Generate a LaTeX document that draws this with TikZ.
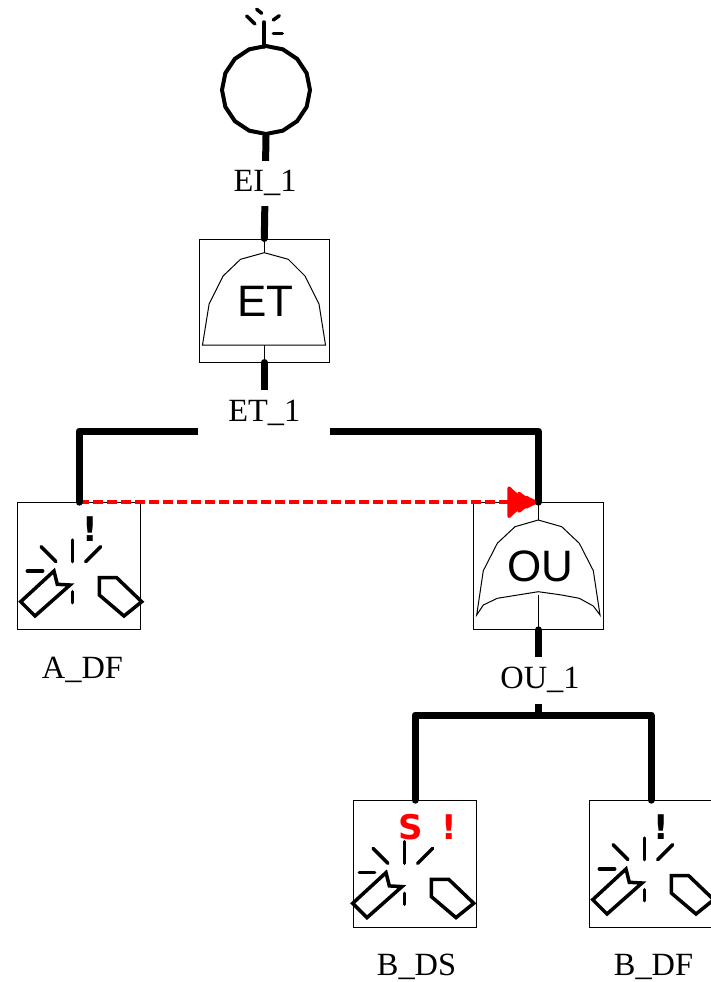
\documentclass[tikz,border=0pt]{standalone}
\usepackage{fontspec}
\setmainfont{Liberation Serif}
\newfontfamily\gatefont{Liberation Sans}
\newfontfamily\markfont{DejaVu Sans}[BoldFont={DejaVu Sans Bold}]
\usetikzlibrary{arrows.meta}
\usetikzlibrary{shapes.geometric}
\tikzset{wire/.style = {line width = 7, line cap = round, line join = round}}
\tikzset{thin line/.style = {line width = 1}}
\tikzset{box/.style = {draw, line width = 1, inner sep = 0, minimum width = 123.4, minimum height = 126.6}}
\tikzset{gatename/.style = {inner sep = 0, font = \gatefont\fontsize{44}{44}\selectfont}}
\tikzset{tag/.style = {fill = white, inner sep = 0, font = \fontsize{32.4}{32.4}\selectfont}}
\tikzset{markbang/.style = {inner sep = 0, font = \markfont\bfseries\fontsize{34}{34}\selectfont}}
\tikzset{spark/.style = {line width = 3.5, line cap = round}}
\tikzset{andshape/.pic = {
    \draw [thin line] (0, -47.8) -- (24, -41.2) -- (40.7, -24.5) -- (54.7, 3.5) -- (61.2, 44.5)
      -- (-61.8, 44.5) -- (-55.2, 3.5) -- (-41.2, -24.5) -- (-23.8, -41.2) -- cycle;
    \draw [thin line] (0, -61.5) -- (0, -47.8);
    \draw [thin line] (0, 44.5) -- (0, 61.5);
  }}
\tikzset{orshape/.pic = {
    \draw [thin line] (0, -46) -- (23.4, -39.3) -- (41, -22.7) -- (55, 4.7) -- (61.7, 49)
      -- (55, 40) -- (41, 32.3) -- (23.4, 29) -- (0, 25.7) -- (-41, 32.3) -- (-55, 39)
      -- (-61.6, 49) -- (-55, 4.7) -- (-41, -22.7) -- (-23.3, -39.3) -- cycle;
    \draw [thin line] (0, -63) -- (0, -46);
    \draw [thin line] (0, 29) -- (0, 63);
  }}
\tikzset{faultshape/.pic = {
    \draw [spark] (-6.7, -26) -- (-6.7, -4.3);
    \draw [spark] (-38, -19.3) -- (-23, -4.3);
    \draw [spark] (21.7, -19.3) -- (6.7, -4.3);
    \draw [spark] (-51.7, 5) -- (-36.3, 5);
    \draw [spark] (-6.7, 25.7) -- (-6.7, 36.7);
    \draw [line width = 3.5] (-25, 5) -- (-21.7, 18.3) -- (-9, 19) -- (-44, 50) -- (-58.3, 35.7) -- cycle;
    \draw [line width = 3.5] (20.3, 11.7) -- (37.7, 11.7) -- (62.7, 35.7) -- (45, 50) -- (20.3, 29) -- cycle;
  }}

\begin{document}
\begin{tikzpicture}[x = 1pt, y = -1pt]
      \useasboundingbox (0, 0) rectangle (711, 982);
      % gates and events
      \node [regular polygon, regular polygon sides = 16, shape border rotate = 11.25, draw,
             line width = 4, inner sep = 0, minimum size = 88] (EI) at (266, 90) {};
      \node [box, minimum width = 130.5, minimum height = 123] (ET) at (264.3, 300.5) {};
      \node [box, minimum width = 130] (OU) at (538.3, 566) {};
      \node [box] (A_DF) at (79, 566) {};
      \node [box] (B_DS) at (415, 864) {};
      \node [box] (B_DF) at (651, 864) {};
      \pic at (ET) {andshape};
      \pic at (OU) {orshape};
      \pic at (79, 566) {faultshape};
      \pic at (411, 867.6) {faultshape};
      \pic at (651, 864) {faultshape};
      \node [gatename] (ET_name) at (265.5, 301.5) {ET};
      \node [gatename] (OU_name) at (540, 566.5) {OU};
      \node [markbang] (A_DF_mark) at (90, 529) {!};
      \node [markbang] (B_DF_mark) at (661.5, 827) {!};
      \node [markbang, text = red] (B_DS_s) at (410.5, 827) {S};
      \node [markbang, text = red] (B_DS_mark) at (449, 827) {!};
      % small rays above the source circle
      \coordinate (EI_base) at (264, 47);
      \coordinate (EI_top) at (264, 22);
      \draw [spark] (EI_base) -- (EI_top);
      \draw [spark] (246.7, 16) -- (255, 24);
      \draw [spark] (256.7, 9.3) -- (261.7, 13.3);
      \draw [spark] (273.3, 20) -- (279.3, 15.7);
      \draw [spark] (273.3, 33.3) -- (282.3, 33.3);
      % sequence link
      \draw [red, line width = 3.5, dash pattern = on 10 off 4,
             -{Latex[round, width = 38, length = 24, sep = -12pt]Latex[round, width = 26, length = 20, sep = -10pt]Latex[round, width = 16, length = 18]}]
            (A_DF.north) -- (OU.north);
      % wires
      \coordinate (ET_bus) at (264.3, 431);
      \coordinate (OU_bus) at (538.3, 715);
      \draw [wire] (EI.south) -- (ET.north);
      \draw [wire] (ET.south) -- (ET_bus);
      \draw [wire] (OU.south) -- (OU_bus);
      \draw [wire] (A_DF.north) |- (ET_bus) -| (OU.north);
      \draw [wire] (B_DS.north) |- (OU_bus) -| (B_DF.north);
      % labels
      \node [tag, minimum width = 80, minimum height = 45] (EI_1) at (265, 183) {EI\_1};
      \node [tag, minimum width = 132, minimum height = 47] (ET_1) at (264.3, 413) {ET\_1};
      \node [tag, minimum width = 90, minimum height = 47] (OU_1) at (540, 680) {OU\_1};
      \node [tag] (A_DF_1) at (82.5, 669.5) {A\_DF};
      \node [tag] (B_DS_1) at (416.5, 966.5) {B\_DS};
      \node [tag] (B_DF_1) at (653.5, 966.5) {B\_DF};
    \end{tikzpicture}
\end{document}
